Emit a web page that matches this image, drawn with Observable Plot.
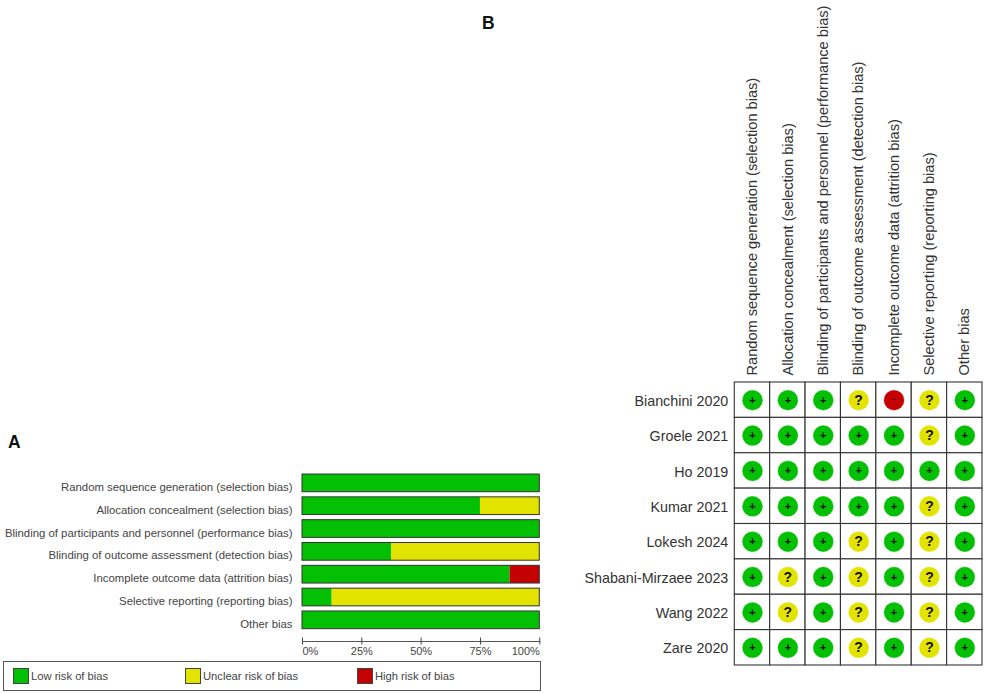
<!DOCTYPE html>
<html><head><meta charset="utf-8">
<script src="https://cdn.jsdelivr.net/npm/d3@7"></script>
<script src="https://cdn.jsdelivr.net/npm/@observablehq/plot@0.6"></script>
<style>
html,body{margin:0;padding:0;background:#fff;overflow:hidden}
#root{position:relative;width:987px;height:693px;font-family:"Liberation Sans",Arial,sans-serif}
#root svg{position:absolute;left:0;top:0;background:transparent}
.tag{position:absolute;font-weight:bold;font-size:17.5px;color:#111}
#legend{position:absolute;left:3px;top:660.5px;width:536px;height:28px;border:1px solid #555}
.sw{position:absolute;top:6px;width:13.5px;height:14px;border:1px solid #444}
.lb{position:absolute;top:7px;font-size:11.2px;color:#444;line-height:15px;white-space:nowrap}
</style></head><body>
<div id="root">
<div class="tag" style="left:8px;top:432px">A</div>
<div class="tag" style="left:482px;top:13px">B</div>
<div id="legend"></div>
</div>
<script>
const domains = ["Random sequence generation (selection bias)","Allocation concealment (selection bias)","Blinding of participants and personnel (performance bias)","Blinding of outcome assessment (detection bias)","Incomplete outcome data (attrition bias)","Selective reporting (reporting bias)","Other bias"];
const risks = ["Low risk of bias","Unclear risk of bias","High risk of bias"];
const riskColors = ["#04c004","#e3e300","#c40000"];
const lowPct = [100,75,100,37.5,87.5,12.5,100];
const unclearPct = [0,25,0,62.5,0,87.5,0];
const highPct = [0,0,0,0,12.5,0,0];
const studies = ["Bianchini 2020","Groele 2021","Ho 2019","Kumar 2021","Lokesh 2024","Shabani-Mirzaee 2023","Wang 2022","Zare 2020"];
const bianchini = ["+","+","+","?","-","?","+"];
const groele = ["+","+","+","+","+","?","+"];
const ho = ["+","+","+","+","+","+","+"];
const kumar = ["+","+","+","+","+","?","+"];
const lokesh = ["+","+","+","?","+","?","+"];
const shabani = ["+","?","+","?","+","?","+"];
const wang = ["+","?","+","?","+","?","+"];
const zare = ["+","+","+","?","+","?","+"];
const judgements = [bianchini,groele,ho,kumar,lokesh,shabani,wang,zare];
const pctTicks = [25,50,75];

const font = '"Liberation Sans",Arial,sans-serif';
const root = document.getElementById("root");

// Panel A
const stacked = domains.flatMap((d,i)=>[
  {domain:d,risk:risks[0],value:lowPct[i]},
  {domain:d,risk:risks[1],value:unclearPct[i]},
  {domain:d,risk:risks[2],value:highPct[i]}
]);
const axisOpts = {anchor:"bottom",tickSize:7,tickPadding:2,dy:-3.5,fontSize:11,label:null,stroke:"#444",color:"#444"};
const panelA = Plot.plot({
  width:987,height:693,marginLeft:302,marginRight:447.7,marginTop:465,marginBottom:52,
  style:{fontFamily:font,background:"transparent",color:"#444"},
  x:{domain:[0,100],label:null},
  y:{domain:domains,range:[468.9,633.8],padding:0.224,round:false,label:null},
  color:{domain:risks,range:riskColors},
  marks:[
    Plot.barX(stacked,{x:"value",y:"domain",fill:"risk"}),
    Plot.barX(domains,{x1:()=>0,x2:()=>100,y:d=>d,fill:"none",stroke:"#333",strokeWidth:1}),
    Plot.axisY({tickSize:0,tickPadding:10,dy:4,fontSize:11.35,label:null,color:"#444"}),
    Plot.frame({anchor:"bottom",stroke:"#555"}),
    Plot.axisX({...axisOpts,ticks:pctTicks,tickFormat:d=>d+"%"}),
    Plot.axisX({...axisOpts,ticks:[0],tickFormat:d=>d+"%",textAnchor:"start"}),
    Plot.axisX({...axisOpts,ticks:[100],tickFormat:d=>d+"%",textAnchor:"end"})
  ]
});
root.appendChild(panelA);

// Panel B
const cells = studies.flatMap((s,i)=>domains.map((d,j)=>({study:s,domain:d,mark:judgements[i][j]})));
const glyph = {"+":"+","?":"?","-":"\u2212"};
const judgeDomain = ["+","?","-"];
const panelB = Plot.plot({
  width:987,height:693,marginLeft:734.3,marginRight:5,marginTop:382,marginBottom:28,
  style:{fontFamily:font,background:"transparent"},
  x:{domain:domains,padding:0,round:false,label:null,axis:null},
  y:{domain:studies,padding:0,round:false,label:null,axis:null},
  color:{domain:judgeDomain,range:riskColors},
  marks:[
    Plot.cell(cells,{x:"domain",y:"study",fill:"white",stroke:"#333",strokeWidth:1.1}),
    Plot.dot(cells,{x:"domain",y:"study",r:10,fill:"mark",stroke:"mark",strokeOpacity:0.35,strokeWidth:1}),
    Plot.text(cells.filter(c=>c.mark==="+"),{x:"domain",y:"study",text:d=>glyph[d.mark],fill:"#111",fontSize:11,fontWeight:"bold"}),
    Plot.text(cells.filter(c=>c.mark==="?"),{x:"domain",y:"study",text:d=>glyph[d.mark],fill:"#111",fontSize:14,fontWeight:"bold"}),
    Plot.text(cells.filter(c=>c.mark==="-"),{x:"domain",y:"study",text:d=>glyph[d.mark],fill:"#7a0000",fontSize:10,fontWeight:"bold"}),
    Plot.axisY({anchor:"left",tickSize:0,tickPadding:6.5,dy:1,fontSize:14.3,label:null,color:"#333"}),
    Plot.axisX({anchor:"top",tickSize:0,tickPadding:7,fontSize:14.6,label:null,color:"#333",tickRotate:-90,lineWidth:40})
  ]
});
root.appendChild(panelB);

// Legend
const legend = document.getElementById("legend");
const swatchLeft = [9,181,353];
risks.forEach((r,i)=>{
  const s=document.createElement("div");s.className="sw";s.style.left=swatchLeft[i]+"px";s.style.background=riskColors[i];legend.appendChild(s);
  const l=document.createElement("div");l.className="lb";l.style.left=(swatchLeft[i]+18)+"px";l.textContent=r;legend.appendChild(l);
});
</script>
</body></html>
